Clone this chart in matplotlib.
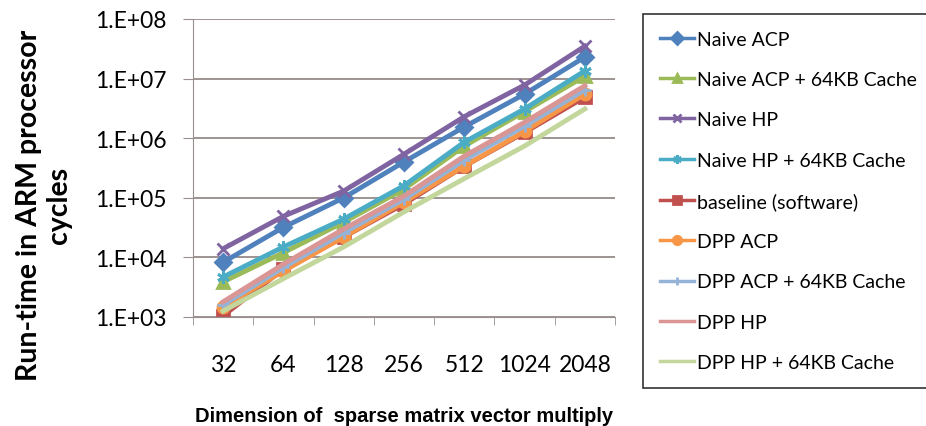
import numpy as np
import matplotlib.pyplot as plt

# --- DATA ---
dims = ["32", "64", "128", "256", "512", "1024", "2048"]

naive_acp = [8.3e3, 3.2e4, 1.0e5, 4.0e5, 1.55e6, 5.5e6, 2.3e7]
naive_acp_cache = [3.9e3, 1.2e4, 3.9e4, 1.4e5, 7.4e5, 2.8e6, 1.1e7]
naive_hp = [1.4e4, 4.9e4, 1.3e5, 5.4e5, 2.3e6, 7.8e6, 3.5e7]
naive_hp_cache = [4.7e3, 1.5e4, 4.4e4, 1.6e5, 8.6e5, 3.1e6, 1.35e7]
baseline = [1.05e3, 6.4e3, 2.2e4, 7.9e4, 3.4e5, 1.25e6, 4.9e6]
dpp_acp = [1.5e3, 5.9e3, 2.2e4, 8.5e4, 3.4e5, 1.3e6, 5.5e6]
dpp_acp_cache = [1.6e3, 6.8e3, 2.6e4, 9.5e4, 4.3e5, 1.6e6, 6.5e6]
dpp_hp = [1.8e3, 7.7e3, 3.0e4, 1.07e5, 5.0e5, 1.85e6, 7.6e6]
dpp_hp_cache = [1.26e3, 4.4e3, 1.5e4, 5.8e4, 2.1e5, 7.4e5, 3.1e6]

series = [
    ("Naive ACP", naive_acp, "#4F81BD", "D", 8),
    ("Naive ACP + 64KB Cache", naive_acp_cache, "#9BBB59", "^", 9),
    ("Naive HP", naive_hp, "#8064A2", "x", 9),
    ("Naive HP + 64KB Cache", naive_hp_cache, "#4BACC6", (6, 2, 0), 9),
    ("baseline (software)", baseline, "#C0504D", "s", 8),
    ("DPP ACP", dpp_acp, "#F79646", "o", 8),
    ("DPP ACP + 64KB Cache", dpp_acp_cache, "#95B3D7", "+", 9),
    ("DPP HP", dpp_hp, "#D99694", "None", 0),
    ("DPP HP + 64KB Cache", dpp_hp_cache, "#C3D69B", "None", 0),
]

plt.rcParams["font.family"] = ["Lato", "DejaVu Sans"]

fig = plt.figure(figsize=(9.26, 4.27), dpi=100)
ax = fig.add_axes([193 / 926, 1 - 318 / 427, (615 - 193) / 926, (318 - 20) / 427])

x = np.arange(len(dims))
for label, vals, color, marker, ms in series:
    ax.plot(x, vals, color=color, lw=3.5, marker=marker, markersize=ms,
            markeredgewidth=2, label=label)

ax.set_yscale("log")
ax.set_ylim(1e3, 1e8)
ax.set_xlim(-0.5, len(dims) - 0.5)
ax.set_yticks([1e3, 1e4, 1e5, 1e6, 1e7, 1e8])
ax.set_yticklabels(["1.E+03", "1.E+04", "1.E+05", "1.E+06", "1.E+07", "1.E+08"])
ax.minorticks_off()
ax.set_xticks(x)
ax.set_xticklabels(dims)
ax.set_xticks(np.arange(-0.5, len(dims)), minor=True)
ax.tick_params(axis="x", which="major", length=0, labelsize=16.5, pad=27)
ax.tick_params(axis="x", which="minor", length=6, color="#9a8f8f", direction="out")
ax.tick_params(axis="y", length=7, color="#9a8f8f", labelsize=16.5, pad=12)

ax.grid(axis="y", color="#8c8080", lw=1.2)
ax.set_axisbelow(True)
for s in ["top", "right"]:
    ax.spines[s].set_visible(False)
ax.spines["left"].set_color("#9a8f8f")
ax.spines["bottom"].set_color("#9a8f8f")

fig.text(44 / 926, 1 - 205 / 427, "Run-time in ARM processor\ncycles", rotation=90,
         ha="center", va="center", fontsize=20.5, fontweight="bold",
         linespacing=1.15)
ax.set_xlabel("Dimension of  sparse matrix vector multiply", fontsize=14.5,
              fontweight="bold", family="Liberation Sans", labelpad=22)

leg = fig.legend(loc="upper left", bbox_to_anchor=(643 / 926, 1 - 15 / 427),
                 fontsize=14, handlelength=1.75, labelspacing=1.2,
                 fancybox=False, edgecolor="black", borderpad=0.85,
                 handletextpad=0.2, borderaxespad=0)
for h in leg.legend_handles:
    h.set_markersize(6)
    h.set_linewidth(2.5)
leg.get_frame().set_linewidth(1.2)

plt.savefig("out.png", dpi=100)
